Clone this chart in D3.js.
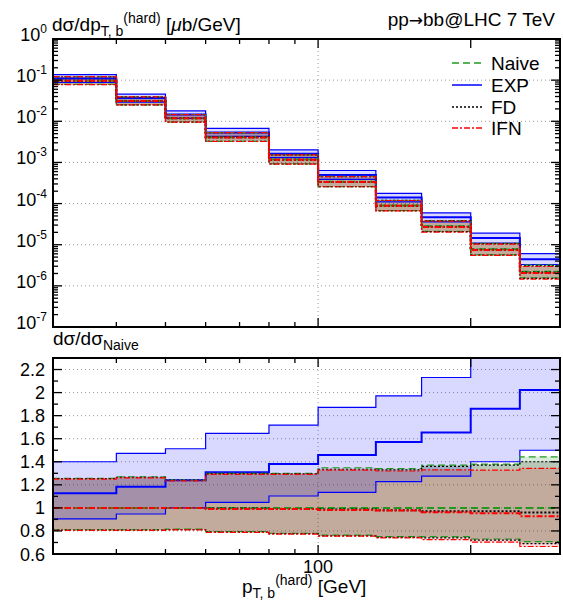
<!DOCTYPE html>
<html>
<head>
<meta charset="utf-8">
<script src="https://cdn.jsdelivr.net/npm/d3@7"></script>
<style>
  body { margin: 0; background: #fff; }
  svg { display: block; font-family: "Liberation Sans", Arial, Helvetica, sans-serif; }
</style>
</head>
<body>
<div id="chart"></div>
<script>
// bin edges in pT [GeV]
const binEdges = [30, 40, 50, 60, 80, 100, 130, 160, 200, 250, 300];

// Naive central cross section [ub/GeV]
const naiveXsec = [0.097, 0.031, 0.0118, 0.0041, 0.00118, 3.4e-4, 9.0e-5, 2.8e-5, 7.8e-6, 2.2e-6];

// ratios to Naive central
const naiveMid  = [1, 1, 1, 1, 1, 1, 1, 1, 1, 1];
const naiveLow  = [0.809, 0.809, 0.815, 0.794, 0.78, 0.763, 0.75, 0.75, 0.73, 0.707];
const naiveHigh = [1.256, 1.27, 1.24, 1.30, 1.30, 1.348, 1.34, 1.37, 1.38, 1.443];

const expMid  = [1.126, 1.184, 1.24, 1.308, 1.38, 1.458, 1.571, 1.654, 1.859, 2.023];
const expLow  = [0.904, 0.947, 1.0, 1.048, 1.103, 1.135, 1.227, 1.276, 1.40, 1.50];
const expHigh = [1.40, 1.473, 1.513, 1.646, 1.718, 1.871, 1.972, 2.131, 2.45, 2.75];

const fdMid  = [1.0, 1.0, 1.0, 0.995, 0.99, 0.985, 0.98, 0.97, 0.97, 0.96];
const fdLow  = [0.808, 0.808, 0.812, 0.79, 0.776, 0.757, 0.745, 0.74, 0.72, 0.69];
const fdHigh = [1.255, 1.265, 1.24, 1.295, 1.295, 1.335, 1.33, 1.36, 1.37, 1.40];

const ifnMid  = [1.0, 1.0, 0.998, 0.99, 0.99, 0.982, 0.978, 0.962, 0.953, 0.927];
const ifnLow  = [0.805, 0.805, 0.81, 0.787, 0.772, 0.755, 0.74, 0.725, 0.703, 0.665];
const ifnHigh = [1.25, 1.26, 1.235, 1.29, 1.29, 1.328, 1.32, 1.33, 1.328, 1.343];

const xTicksMinor = [40, 50, 60, 70, 80, 90];
const xTicksMajor = [100, 200];
const ratioTicksMajor = [0.6, 0.8, 1, 1.2, 1.4, 1.6, 1.8, 2, 2.2];
const ratioTicksMinor = [0.7, 0.9, 1.1, 1.3, 1.5, 1.7, 1.9, 2.1, 2.3];

const series = [
  {name: "Naive", color: "#1f9a1f", dash: "7,4",     fill: "rgba(0,130,0,0.15)",  mid: naiveMid, low: naiveLow, high: naiveHigh},
  {name: "EXP",   color: "#0000ff", dash: null,      fill: "rgba(0,0,255,0.15)",  mid: expMid,   low: expLow,   high: expHigh},
  {name: "FD",    color: "#000000", dash: "2,2",     fill: "rgba(0,0,0,0.15)",    mid: fdMid,    low: fdLow,    high: fdHigh},
  {name: "IFN",   color: "#ff0000", dash: "6,2,2,2", fill: "rgba(255,0,0,0.15)",  mid: ifnMid,   low: ifnLow,   high: ifnHigh}
];
const fillOrder = ["Naive", "FD", "IFN", "EXP"];
const lineOrder = ["EXP", "Naive", "FD", "IFN"];

const W = 563, H = 601;
const left = 53, right = 560;
const topP = {y0: 39, y1: 327};
const botP = {y0: 358, y1: 554};

const svg = d3.select("#chart").append("svg")
  .attr("width", W).attr("height", H);

const x = d3.scaleLog().domain([30, 300]).range([left, right]);
const yTop = d3.scaleLog().domain([1e-7, 1]).range([topP.y1, topP.y0]);
const yBot = d3.scaleLinear().domain([0.6, 2.3]).range([botP.y1, botP.y0]);

const defs = svg.append("defs");
defs.append("clipPath").attr("id", "clipTop").append("rect")
  .attr("x", left).attr("y", topP.y0).attr("width", right - left).attr("height", topP.y1 - topP.y0);
defs.append("clipPath").attr("id", "clipBot").append("rect")
  .attr("x", left).attr("y", botP.y0).attr("width", right - left).attr("height", botP.y1 - botP.y0);

// step points: one per bin edge, last value repeated
function steps(vals) {
  return binEdges.map((e, i) => [e, vals[Math.min(i, vals.length - 1)]]);
}

function drawPanel(clipId, y, valueOf, panel) {
  const g = svg.append("g");

  // grid
  const grid = g.append("g").attr("stroke", "#9a9a9a").attr("stroke-width", 1).attr("stroke-dasharray", "1,3");
  panel.gridY.forEach(v => {
    grid.append("line").attr("x1", left).attr("x2", right).attr("y1", y(v)).attr("y2", y(v));
  });
  grid.append("line").attr("x1", x(100)).attr("x2", x(100)).attr("y1", panel.y0).attr("y2", panel.y1);

  const plot = g.append("g").attr("clip-path", `url(#${clipId})`);

  const area = d3.area().curve(d3.curveStepAfter)
    .x(d => x(d[0])).y0(d => y(d[1])).y1(d => y(d[2]));
  const line = d3.line().curve(d3.curveStepAfter)
    .x(d => x(d[0])).y(d => y(d[1]));

  fillOrder.forEach(name => {
    const s = series.find(d => d.name === name);
    const lo = steps(s.low.map((r, i) => valueOf(r, i)));
    const hi = steps(s.high.map((r, i) => valueOf(r, i)));
    plot.append("path")
      .datum(lo.map((d, i) => [d[0], d[1], hi[i][1]]))
      .attr("fill", s.fill)
      .attr("d", area);
  });

  lineOrder.forEach(name => {
    const s = series.find(d => d.name === name);
    [["low", 1.2], ["high", 1.2], ["mid", 2]].forEach(([key, w]) => {
      plot.append("path")
        .datum(steps(s[key].map((r, i) => valueOf(r, i))))
        .attr("fill", "none")
        .attr("stroke", s.color)
        .attr("stroke-width", w)
        .attr("stroke-dasharray", s.dash)
        .attr("d", line);
    });
  });

  // ticks (inward on all four sides)
  const ticks = g.append("g").attr("stroke", "#000").attr("stroke-width", 1.3);
  xTicksMinor.forEach(v => {
    ticks.append("line").attr("x1", x(v)).attr("x2", x(v)).attr("y1", panel.y0).attr("y2", panel.y0 + 5);
    ticks.append("line").attr("x1", x(v)).attr("x2", x(v)).attr("y1", panel.y1).attr("y2", panel.y1 - 5);
  });
  xTicksMajor.forEach(v => {
    ticks.append("line").attr("x1", x(v)).attr("x2", x(v)).attr("y1", panel.y0).attr("y2", panel.y0 + 9);
    ticks.append("line").attr("x1", x(v)).attr("x2", x(v)).attr("y1", panel.y1).attr("y2", panel.y1 - 9);
  });
  panel.yMajor.forEach(v => {
    ticks.append("line").attr("x1", left).attr("x2", left + 9).attr("y1", y(v)).attr("y2", y(v));
    ticks.append("line").attr("x1", right).attr("x2", right - 9).attr("y1", y(v)).attr("y2", y(v));
  });
  panel.yMinor.forEach(v => {
    ticks.append("line").attr("x1", left).attr("x2", left + 5).attr("y1", y(v)).attr("y2", y(v));
    ticks.append("line").attr("x1", right).attr("x2", right - 5).attr("y1", y(v)).attr("y2", y(v));
  });

  // frame
  g.append("rect")
    .attr("x", left).attr("y", panel.y0)
    .attr("width", right - left).attr("height", panel.y1 - panel.y0)
    .attr("fill", "none").attr("stroke", "#000").attr("stroke-width", 2);
  return g;
}

// rich text with sub/superscripts
function richText(x0, y0, parts, anchor) {
  const t = svg.append("text")
    .attr("x", x0).attr("y", y0)
    .attr("text-anchor", anchor || "start")
    .attr("font-size", 19).attr("fill", "#000");
  let cur = 0;
  parts.forEach(p => {
    const off = p.shift || 0;
    const ts = t.append("tspan")
      .attr("dy", off - cur)
      .attr("font-size", p.size || 19)
      .text(p.text);
    if (p.family) ts.attr("font-family", p.family);
    if (p.italic) ts.attr("font-style", "italic");
    cur = off;
  });
  return t;
}

// top panel
const decades = d3.range(-7, 1);
const topMajor = decades.map(k => Math.pow(10, k));
const topMinor = [];
decades.slice(0, -1).forEach(k => d3.range(2, 10).forEach(m => topMinor.push(m * Math.pow(10, k))));

drawPanel("clipTop", yTop, (r, i) => naiveXsec[i] * r, {
  y0: topP.y0, y1: topP.y1,
  gridY: topMajor.slice(1, -1),
  yMajor: topMajor, yMinor: topMinor
});

// bottom panel
drawPanel("clipBot", yBot, r => r, {
  y0: botP.y0, y1: botP.y1,
  gridY: ratioTicksMajor.slice(1),
  yMajor: ratioTicksMajor, yMinor: ratioTicksMinor
});

// y tick labels, top
decades.forEach(k => {
  richText(47, yTop(Math.pow(10, k)) + 2, [
    {text: "10", size: 18},
    {text: String(k), size: 12, shift: -8}
  ], "end");
});

// y tick labels, bottom
ratioTicksMajor.forEach(v => {
  svg.append("text")
    .attr("x", 45).attr("y", yBot(v) + 6.5)
    .attr("text-anchor", "end")
    .attr("font-size", 18)
    .text(d3.format("~g")(v));
});

// x tick label
svg.append("text")
  .attr("x", x(100)).attr("y", 573)
  .attr("text-anchor", "middle")
  .attr("font-size", 18)
  .text("100");

// titles
richText(52, 31, [
  {text: "dσ/dp"},
  {text: "T, b", size: 14, shift: 5},
  {text: "(hard)", size: 14, shift: -8},
  {text: " ["},
  {text: "μ", italic: true},
  {text: "b/GeV]"}
]);
richText(555, 26, [
  {text: "pp"},
  {text: "→", family: "DejaVu Sans", size: 17},
  {text: "bb@LHC 7 TeV"}
], "end");
richText(53, 345, [
  {text: "dσ/dσ"},
  {text: "Naive", size: 14, shift: 5}
]);
richText(242, 593, [
  {text: "p"},
  {text: "T, b", size: 14, shift: 5},
  {text: "(hard)", size: 14, shift: -8},
  {text: " [GeV]"}
]);

// legend
const legendY = [63, 85, 107, 128];
const legend = svg.append("g");
series.forEach((s, i) => {
  legend.append("line")
    .attr("x1", 452).attr("x2", 482)
    .attr("y1", legendY[i]).attr("y2", legendY[i])
    .attr("stroke", s.color).attr("stroke-width", 1.5)
    .attr("stroke-dasharray", s.dash);
  legend.append("text")
    .attr("x", 491).attr("y", legendY[i] + 6.5)
    .attr("font-size", 19)
    .text(s.name);
});
</script>
</body>
</html>
